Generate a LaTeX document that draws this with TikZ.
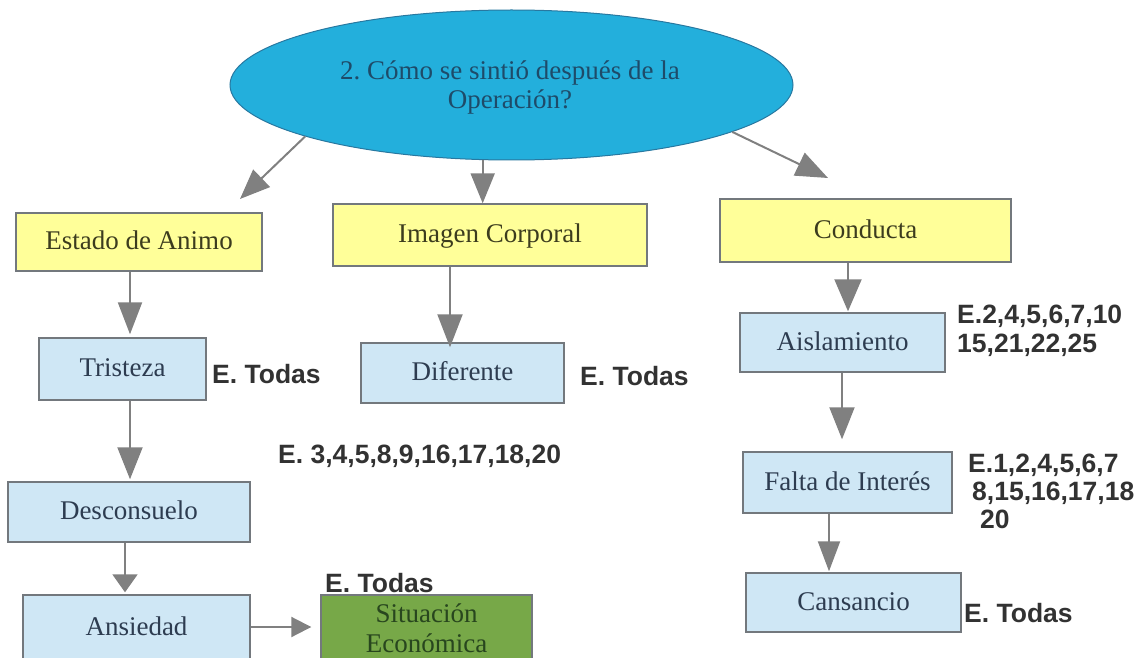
\documentclass[tikz,border=0pt]{standalone}
\usepackage{fontspec}
\setmainfont{Liberation Serif}
\newfontfamily\labfont{Liberation Sans}
\usetikzlibrary{arrows.meta,shapes.geometric,calc}
\definecolor{ellfill}{RGB}{35,175,220}
\definecolor{ellline}{RGB}{40,120,160}
\definecolor{elltext}{RGB}{30,75,105}
\definecolor{yfill}{RGB}{255,255,153}
\definecolor{ytext}{RGB}{60,60,30}
\definecolor{bfill}{RGB}{207,231,245}
\definecolor{btext}{RGB}{45,60,80}
\definecolor{gfill}{RGB}{119,168,72}
\definecolor{gtext}{RGB}{40,70,30}
\definecolor{boxline}{RGB}{115,120,125}
\definecolor{arrcol}{RGB}{128,128,128}
\definecolor{labcol}{RGB}{50,50,50}
\frenchspacing
\begin{document}
\begin{tikzpicture}[x=1pt,y=-1pt,
  boxbase/.style={draw=boxline, line width=1.4pt, inner sep=0pt, font=\fontsize{27}{30}\selectfont},
  ybox/.style={boxbase, fill=yfill, text=ytext, text height=19pt, text depth=4pt},
  bbox/.style={boxbase, fill=bfill, text=btext, text height=19pt, text depth=4pt},
  gbox/.style={boxbase, fill=gfill, text=gtext, align=center},
  lab/.style={anchor=base west, inner sep=0pt, font=\labfont\bfseries\fontsize{26.5}{30}\selectfont, text=labcol},
  conn/.style={draw=arrcol, line width=2pt, -{Triangle[length=30pt,width=24pt]}},
]
\path[use as bounding box] (0,0) rectangle (1144,658);
\clip (0,0) rectangle (1144,658);

% central question
\node[ellipse, draw=ellline, fill=ellfill, line width=1pt, minimum width=563pt, minimum height=150pt, inner sep=0pt] (q) at (511.5,85) {};
\node[align=center, text=elltext, font=\fontsize{27}{29}\selectfont, inner sep=0pt] (qt) at (510,87) {2. Cómo se sintió después de la\\Operación?};

% boxes
\node[ybox, minimum width=246pt, minimum height=58pt] (estado) at (139,242) {Estado de Animo};
\node[ybox, minimum width=314pt, minimum height=62pt] (imagen) at (490,235) {Imagen Corporal};
\node[ybox, minimum width=291pt, minimum height=63pt] (conducta) at (865.5,230.5) {Conducta};
\node[bbox, minimum width=167pt, minimum height=62pt] (tristeza) at (122.5,369) {Tristeza};
\node[bbox, minimum width=203pt, minimum height=60pt] (diferente) at (462.5,373) {Diferente};
\node[bbox, minimum width=242pt, minimum height=60pt] (descon) at (129,512) {Desconsuelo};
\node[bbox, minimum width=227pt, minimum height=66pt] (ansiedad) at (136.5,628) {Ansiedad};
\node[gbox, minimum width=211pt, minimum height=66pt] (situacion) at (426.5,628) {Situación\\Económica};
\node[bbox, minimum width=205pt, minimum height=59pt] (aisl) at (842.5,342.5) {Aislamiento};
\node[bbox, minimum width=209pt, minimum height=61pt] (falta) at (847.5,482.5) {Falta de Interés};
\node[bbox, minimum width=215pt, minimum height=59pt] (cansancio) at (853.5,602.5) {Cansancio};

% connectors
\coordinate (estadotip) at (240,199);
\coordinate (conductatip) at (828,178);
\draw[conn] (q.194.7) -- (estadotip);
\draw[conn] (q.249.1) -- (q.249.1 |- imagen.north);
\draw[conn, -{Triangle[length=32pt,width=25pt]}] (q.348.5) -- (conductatip);

\draw[conn, -{Triangle[length=32pt,width=24pt]}, shorten >=3pt] ([xshift=-9pt]estado.south) -- ([xshift=7.5pt]tristeza.north);
\draw[conn, -{Triangle[length=32pt,width=25pt]}, shorten >=2pt] ([xshift=7.5pt]tristeza.south) -- ([xshift=1pt]descon.north);
\draw[conn, -{Triangle[length=18pt,width=25pt]}, shorten >=2pt] ([xshift=-4pt]descon.south) -- ([xshift=-11.5pt]ansiedad.north);
\draw[conn, -{Triangle[length=20pt,width=20pt]}, shorten >=9pt] ([yshift=1pt]ansiedad.east) -- ([yshift=1pt]situacion.west);
\draw[conn, -{Triangle[length=33pt,width=25pt]}, shorten >=-5pt] ([xshift=-40pt]imagen.south) -- ([xshift=-12.5pt]diferente.north);
\draw[conn, -{Triangle[length=32pt,width=27pt]}, shorten >=1pt] ([xshift=-17.5pt]conducta.south) -- ([xshift=5.5pt]aisl.north);
\draw[conn, -{Triangle[length=32pt,width=25pt]}, shorten >=12pt] ([xshift=-0.5pt]aisl.south) -- ([xshift=-5.5pt]falta.north);
\draw[conn, -{Triangle[length=30pt,width=22pt]}, shorten >=1pt] ([xshift=-18.5pt]falta.south) -- ([xshift=-24.5pt]cansancio.north);

% labels
\node[lab] (l1) at (212,383) {E. Todas};
\node[lab] (l2) at (580,385) {E. Todas};
\node[lab] (l3) at (278,463) {E. 3,4,5,8,9,16,17,18,20};
\node[lab] (l4) at (325,592) {E. Todas};
\node[lab] (l5a) at (957,323) {E.2,4,5,6,7,10};
\node[lab] (l5b) at (957,352) {15,21,22,25};
\node[lab] (l6a) at (968,472) {E.1,2,4,5,6,7};
\node[lab] (l6b) at (972,500) {8,15,16,17,18};
\node[lab] (l6c) at (980,528) {20};
\node[lab] (l7) at (964,622) {E. Todas};
\end{tikzpicture}
\end{document}
